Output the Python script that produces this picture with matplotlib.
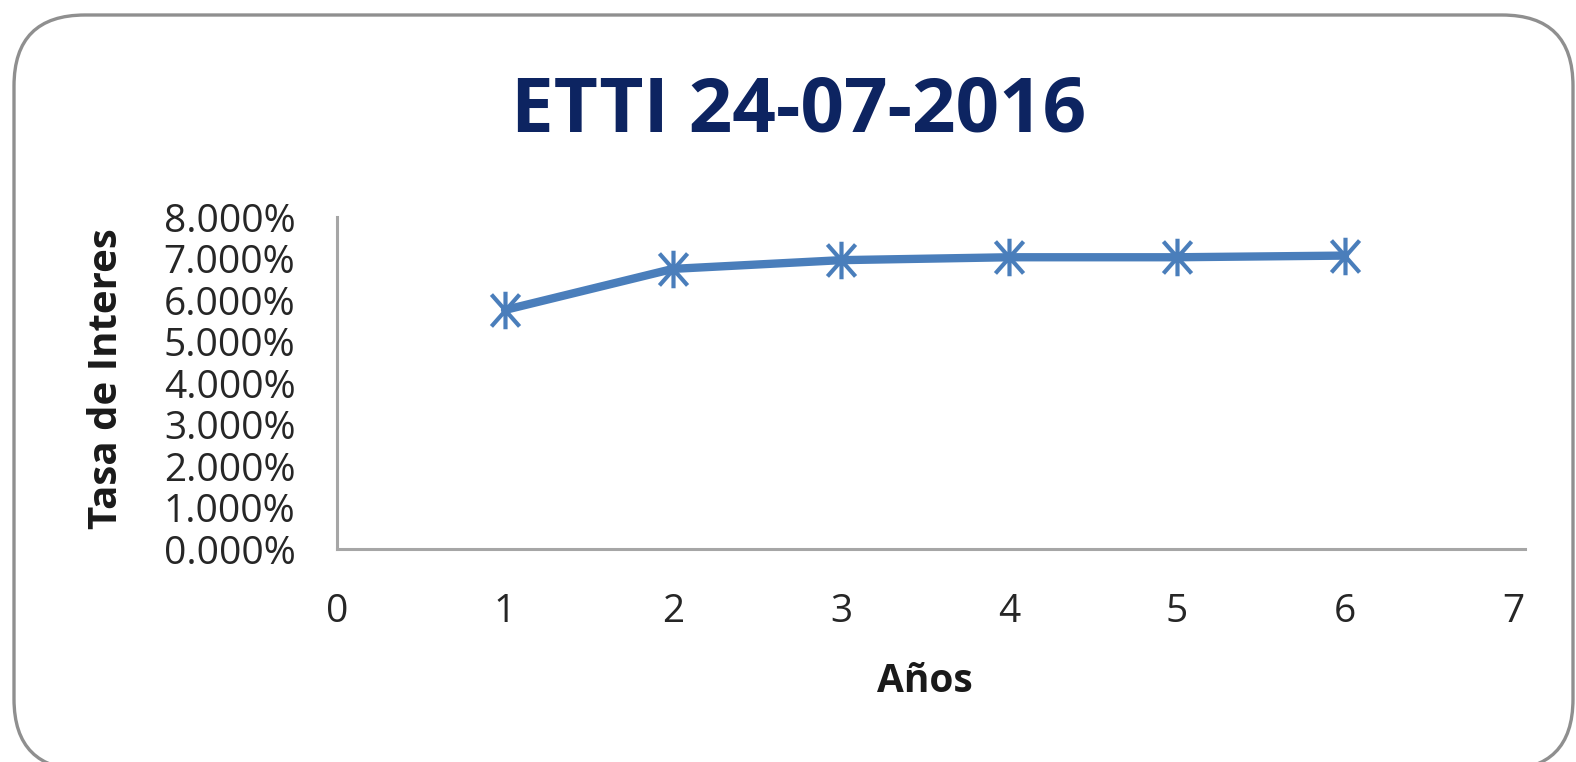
import matplotlib
matplotlib.use("Agg")
import matplotlib.pyplot as plt
from matplotlib.patches import FancyBboxPatch
from matplotlib.path import Path
from matplotlib.ticker import FuncFormatter

years = [1, 2, 3, 4, 5, 6]
rates = [5.76, 6.75, 6.96, 7.03, 7.03, 7.07]
x_ticks = [0, 1, 2, 3, 4, 5, 6, 7]
y_ticks = [0, 1, 2, 3, 4, 5, 6, 7, 8]
title = "ETTI 24-07-2016"
xlabel = "Años"
ylabel = "Tasa de Interes"

W, H = 1576, 762
fig = plt.figure(figsize=(W / 100, H / 100), dpi=100)
fig.patch.set_facecolor("white")

# rounded chart border
box = FancyBboxPatch((14 / W, 1 - 770 / H), (1573 - 14) / W, (770 - 15) / H,
                     boxstyle="round,pad=0,rounding_size=0.045",
                     transform=fig.transFigure, facecolor="white",
                     edgecolor="#8f8f8f", linewidth=2.4, mutation_aspect=W / H,
                     zorder=-5)
fig.patches.append(box)

ax = fig.add_axes([337 / W, 1 - 549 / H, (1513 - 337) / W, (549 - 217) / H])
ax.set_facecolor("none")
ax.set_zorder(2)

star = Path([(0, -1), (0, 1), (-0.75, -0.85), (0.75, 0.85), (-0.75, 0.85), (0.75, -0.85)],
            [Path.MOVETO, Path.LINETO, Path.MOVETO, Path.LINETO, Path.MOVETO, Path.LINETO])

ax.plot(years, rates, color="#4a7ebb", linewidth=6, marker=star, markersize=27,
        markeredgewidth=3.0, markeredgecolor="#4a7ebb", solid_capstyle="round",
        clip_on=False)

ax.set_xlim(0, 7)
ax.set_ylim(0, 8)
ax.set_xticks(x_ticks)
ax.set_yticks(y_ticks)
ax.yaxis.set_major_formatter(FuncFormatter(lambda v, p: f"{v:.3f}%"))

for s in ["top", "right"]:
    ax.spines[s].set_visible(False)
for s in ["left", "bottom"]:
    ax.spines[s].set_color("#a6a6a6")
    ax.spines[s].set_linewidth(2.2)
ax.spines["bottom"].set_bounds(0, 7.07)
ax.tick_params(length=0, labelsize=28, labelcolor="#262626")
ax.tick_params(axis="y", pad=30)
ax.tick_params(axis="x", pad=32)
for lab in ax.get_xticklabels() + ax.get_yticklabels():
    lab.set_fontfamily("Open Sans")

fig.text(799 / W, 1 - 112 / H, title, ha="center", va="center", fontsize=55,
         fontweight="bold", color="#0d2461", family="Open Sans")
fig.text(925 / W, 1 - 681 / H, xlabel, ha="center", va="center", fontsize=28,
         fontweight="bold", color="#1a1a1a", family="Open Sans")
fig.text(107 / W, 1 - 379 / H, ylabel, ha="center", va="center", fontsize=29,
         fontweight="bold", color="#1a1a1a", family="Open Sans", rotation=90)

fig.savefig("out.png", dpi=100)
